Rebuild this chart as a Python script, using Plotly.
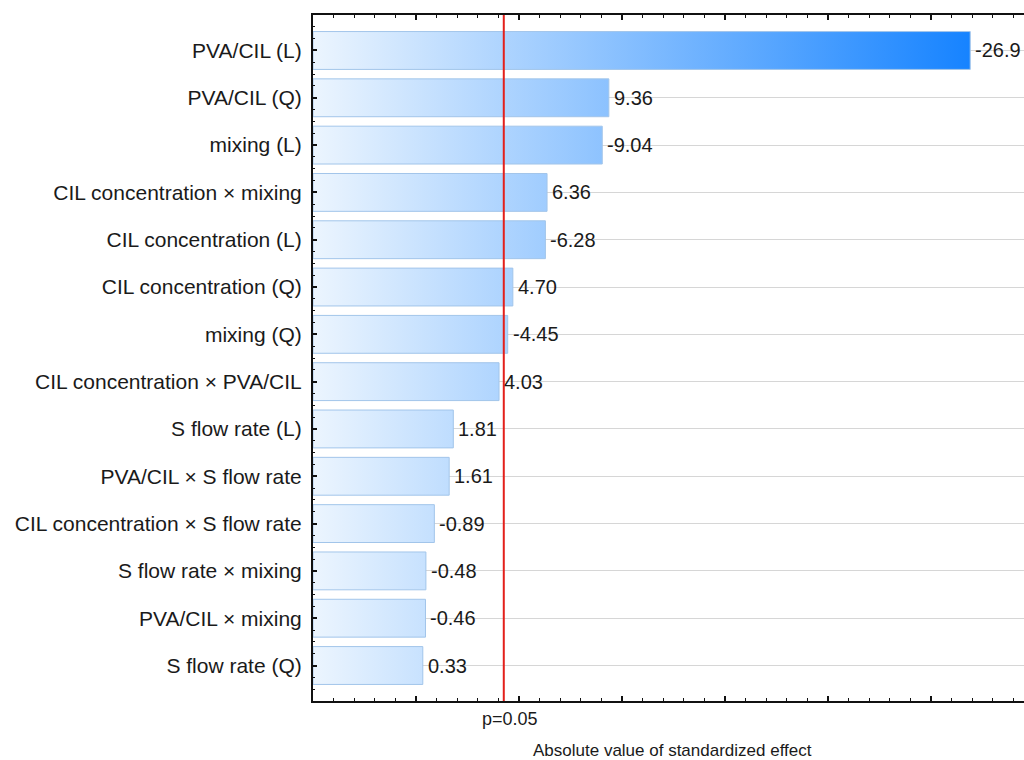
import plotly.graph_objects as go

# Pareto chart of standardized effects
factors = [
    "PVA/CIL (L)",
    "PVA/CIL (Q)",
    "mixing (L)",
    "CIL concentration × mixing",
    "CIL concentration (L)",
    "CIL concentration (Q)",
    "mixing (Q)",
    "CIL concentration × PVA/CIL",
    "S flow rate (L)",
    "PVA/CIL × S flow rate",
    "CIL concentration × S flow rate",
    "S flow rate × mixing",
    "PVA/CIL × mixing",
    "S flow rate (Q)",
]
effects = [-26.9, 9.36, -9.04, 6.36, -6.28, 4.70, -4.45, 4.03, 1.81, 1.61, -0.89, -0.48, -0.46, 0.33]
p_threshold = 4.26
p_label = "p=0.05"
x_title = "Absolute value of standardized effect"

X_MIN, X_MAX = -5.0, 29.51
BAR_H = 0.8
FONT = "Liberation Sans, Arial, sans-serif"
TEXT = "#1a1a1a"


def fmt(v):
    return f"{v:.1f}" if abs(v) >= 10 else f"{v:.2f}"


fig = go.Figure()

grad_stop = max(abs(v) for v in effects)
for i, v in enumerate(effects):
    a = abs(v)
    y0, y1 = i - BAR_H / 2, i + BAR_H / 2
    fig.add_trace(go.Scatter(
        x=[X_MIN, a, a, X_MIN, X_MIN],
        y=[y0, y0, y1, y1, y0],
        mode="lines",
        fill="toself",
        fillgradient=dict(
            type="horizontal",
            start=X_MIN,
            stop=grad_stop,
            colorscale=[[0, "#ecf5fe"], [1, "#1683ff"]],
        ),
        line=dict(color="#a2c5ea", width=1),
        hoverinfo="skip",
        showlegend=False,
    ))

    # value label just past the bar end
    fig.add_annotation(x=a, y=i, xref="x", yref="y", text=fmt(v),
                       showarrow=False, xanchor="left", yanchor="middle",
                       xshift=3, font=dict(family=FONT, size=20, color=TEXT))

# significance threshold
fig.add_shape(type="line", xref="x", yref="paper", x0=p_threshold, x1=p_threshold,
              y0=0, y1=1, line=dict(color="#e3201b", width=2), layer="above")

fig.add_annotation(x=p_threshold, xref="x", y=0, yref="paper", text=p_label,
                   showarrow=False, yanchor="middle", yshift=-18, xshift=6,
                   font=dict(family=FONT, size=18, color=TEXT))
fig.add_annotation(x=0.505, xref="paper", y=0, yref="paper", text=x_title,
                   showarrow=False, yanchor="middle", yshift=-49,
                   font=dict(family=FONT, size=17, color=TEXT))

fig.update_layout(
    width=1024, height=760,
    margin=dict(l=313, r=0, t=15, b=59),
    paper_bgcolor="white", plot_bgcolor="white",
    font=dict(family=FONT, color=TEXT),
    xaxis=dict(
        range=[X_MIN, X_MAX],
        showgrid=False, zeroline=False,
        showline=True, linecolor="#111111", linewidth=2, mirror="ticks",
        ticks="inside", ticklen=5, tickcolor="#111111", tickwidth=1.5,
        tick0=0, dtick=5,
        minor=dict(ticks="inside", ticklen=3, dtick=1, tick0=0,
                   tickcolor="#111111", tickwidth=1.2),
        showticklabels=False,
    ),
    yaxis=dict(
        range=[len(factors) - 0.25, -0.75],
        tickmode="array",
        tickvals=list(range(len(factors))),
        ticktext=factors,
        tickfont=dict(family=FONT, size=21, color=TEXT),
        showgrid=True, gridcolor="#d6d6d6", gridwidth=1,
        zeroline=False,
        showline=True, linecolor="#111111", linewidth=2,
        ticks="inside", ticklen=4, tickcolor="#111111", tickwidth=1.5,
        minor=dict(ticks="inside", ticklen=2, dtick=0.25, tick0=0,
                   tickcolor="#111111", tickwidth=1.2, showgrid=False),
        ticklabelstandoff=5,
    ),
)

fig.write_html("out.html")
